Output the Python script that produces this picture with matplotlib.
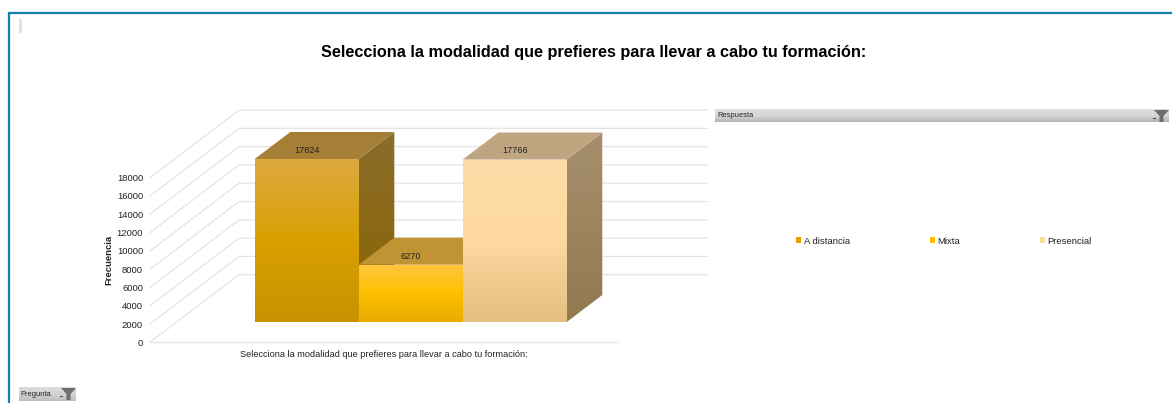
import numpy as np
import matplotlib
matplotlib.use("Agg")
import matplotlib.pyplot as plt
from matplotlib.patches import Polygon, Rectangle

categories = ["A distancia", "Mixta", "Presencial"]
values = [17824, 6270, 17766]
y_ticks = [0, 2000, 4000, 6000, 8000, 10000, 12000, 14000, 16000, 18000]
x_label = "Selecciona la modalidad que prefieres para llevar a cabo tu formación:"
y_label = "Frecuencia"
title = "Selecciona la modalidad que prefieres para llevar a cabo tu formación:"

front_cols = [["#DDA940", "#D9A000", "#C89300"], ["#FFC53F", "#FFC000", "#E7AE00"], ["#FFDDA8", "#FDD9A0", "#E4BF82"]]
side_cols = [["#8A6D2B", "#8A6400"], ["#8A6D2B", "#8A6400"], ["#A68F6C", "#917A50"]]
top_cols = ["#A67F37", "#C09433", "#BFA680"]
legend_cols = ["#DFA100", "#FFC000", "#FDD9A0"]

W, H = 1172, 403
plt.rcParams["font.family"] = ["Liberation Sans", "DejaVu Sans"]
fig = plt.figure(figsize=(W / 100, H / 100), dpi=100, facecolor="white")

# pixel-space layer for the window furniture
bg = fig.add_axes([0, 0, 1, 1])
bg.set_xlim(0, W); bg.set_ylim(H, 0); bg.axis("off")
bg.plot([9, 9, W], [H, 13.3, 13.3], color="#137FAB", lw=1.6, solid_joinstyle="miter")
bg.add_patch(Rectangle((18.5, 19), 3, 14, color="#E2E2E2", lw=0))

def vgrad(axis, extent, stops, **kw):
    arr = np.array([matplotlib.colors.to_rgb(c) for c in stops])
    t = np.linspace(0, 1, len(stops)); tt = np.linspace(0, 1, 64)
    img = np.stack([np.interp(tt, t, arr[:, k]) for k in range(3)], axis=1)[:, None, :]
    return axis.imshow(img, extent=extent, aspect="auto", **kw)

vgrad(bg, (715, 1169, 122, 109), ["#DEDEDE", "#D8D8D8", "#B4B4B4"], zorder=1, origin="upper")
vgrad(bg, (19, 76, 401, 387), ["#DCDCDC", "#D4D4D4", "#BEBEBE"], zorder=1, origin="upper")
bg.set_xlim(0, W); bg.set_ylim(H, 0)
bg.text(717, 115.5, "Respuesta", fontsize=5.4, va="center", color="#222222", zorder=2)
bg.text(20.5, 394.5, "Pregunta", fontsize=5.4, va="center", color="#222222", zorder=2)
for x0, y0 in [(1154, 110), (61, 388)]:
    bg.add_patch(Polygon([(x0, y0), (x0 + 15, y0), (x0 + 9.5, y0 + 6), (x0 + 9.5, y0 + 12), (x0 + 5.5, y0 + 12), (x0 + 5.5, y0 + 6)],
                         closed=True, color="#6E6E6E", lw=0, zorder=3))
    bg.plot([x0 - 1.5, x0 + 0.5], [y0 + 8, y0 + 8], color="#555555", lw=0.8, zorder=3)

bg.text(593.5, 52, title, fontsize=11.72, fontweight="bold", ha="center", va="center", color="black")

# chart: the axes rectangle is the front plane of the 3D box
L, R, B, T = 150, 618, 342.3, 177.7
ax = fig.add_axes([L / W, 1 - B / H, (R - L) / W, (B - T) / H], facecolor="none")
xlim = (-0.75, 3.75)
ylim = (0, 18000)
ax.set_xlim(xlim); ax.set_ylim(ylim)
for s in ax.spines.values():
    s.set_visible(False)

depth_x = 89 / ((R - L) / (xlim[1] - xlim[0]))
depth_v = 67.6 / ((B - T) / (ylim[1] - ylim[0]))

def proj(x, v, d):
    return (x + d * depth_x, v + d * depth_v)

grid = "#E4E4E4"
for v in y_ticks:
    p0, p1, p2 = proj(xlim[0], v, 0), proj(xlim[0], v, 1), proj(xlim[1], v, 1)
    ax.plot([p0[0], p1[0], p2[0]], [p0[1], p1[1], p2[1]], color=grid, lw=0.9, clip_on=False, zorder=1)
ax.plot(xlim, [0, 0], color=grid, lw=0.9, clip_on=False, zorder=1)

def face(pts, stops, z):
    xs, ys = zip(*pts)
    poly = Polygon(pts, closed=True, transform=ax.transData, fc="none", ec="none")
    ax.add_patch(poly)
    poly.set_clip_on(False)
    im = vgrad(ax, (min(xs), max(xs), min(ys), max(ys)), stops, zorder=z, origin="upper")
    im.set_clip_box(fig.bbox)
    im.set_clip_path(poly)

d0, d1 = 0.3, 0.7
for i, (val, fc, sc, tc) in enumerate(zip(values, front_cols, side_cols, top_cols)):
    z = 2 + i
    x0, x1 = i, i + 1
    face([proj(x1, 0, d0), proj(x1, val, d0), proj(x1, val, d1), proj(x1, 0, d1)], sc, z)
    ax.add_patch(Polygon([proj(x0, val, d0), proj(x1, val, d0), proj(x1, val, d1), proj(x0, val, d1)],
                         closed=True, fc=tc, ec="none", zorder=z + 0.1, clip_on=False))
    face([proj(x0, 0, d0), proj(x1, 0, d0), proj(x1, val, d0), proj(x0, val, d0)], fc, z + 0.2)
    tx, ty = proj(i + 0.5, val, d0)
    ax.annotate(str(val), (tx, ty), xytext=(0.3, 6.2), textcoords="offset points", ha="center", va="center",
                fontsize=6.6, color="#222222", zorder=10, annotation_clip=False)

ax.set_xlim(xlim); ax.set_ylim(ylim)
ax.set_yticks(y_ticks)
ax.set_yticklabels([str(v) for v in y_ticks], fontsize=6.8, color="#222222")
ax.set_xticks([(xlim[0] + xlim[1]) / 2])
ax.set_xticklabels([x_label], fontsize=6.6, color="#222222")
ax.tick_params(length=0, axis="y", pad=5)
ax.tick_params(length=0, axis="x", pad=5.5)
bg.text(108.5, 260, y_label, rotation=90, fontsize=6.8, fontweight="bold", ha="center", va="center", color="#222222")

handles = [Rectangle((0, 0), 1, 1, fc=c, ec="none") for c in legend_cols]
bg.legend(handles, categories, ncol=3, frameon=False, fontsize=6.8, handlelength=0.55, handleheight=0.55,
          handletextpad=0.3, columnspacing=8.4, loc="center", bbox_to_anchor=(944 / W, 1 - 241 / H),
          bbox_transform=fig.transFigure, labelcolor="#222222")

fig.savefig("out.png", dpi=100, facecolor="white")
